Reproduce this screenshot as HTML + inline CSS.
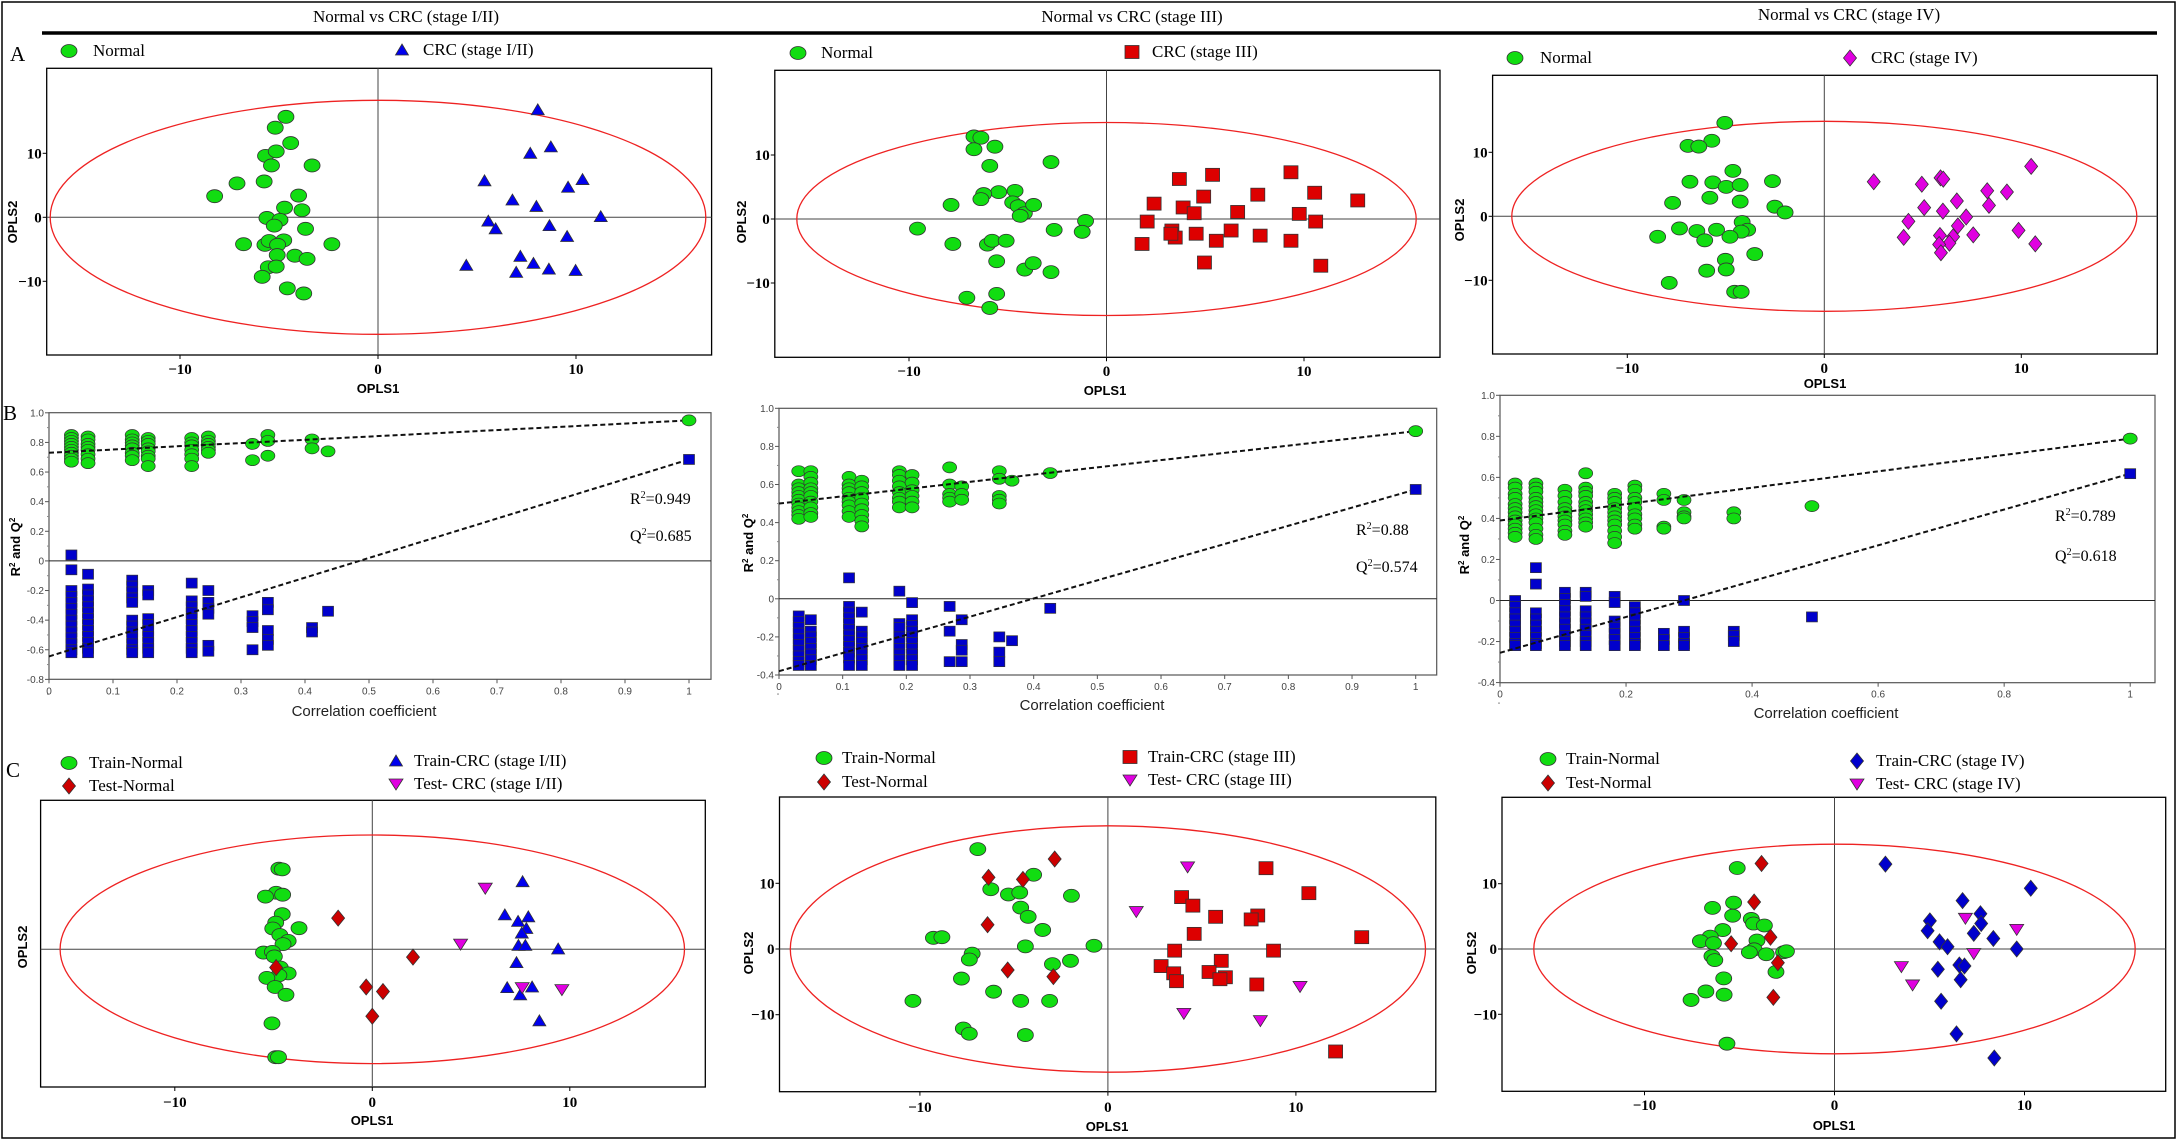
<!DOCTYPE html>
<html><head><meta charset="utf-8"><style>
html,body{margin:0;padding:0;background:#fff}
svg{display:block}
.ser{font-family:"Liberation Serif",serif}
.san{font-family:"Liberation Sans",sans-serif}
</style></head><body>
<svg id="fig" xmlns="http://www.w3.org/2000/svg" width="2182" height="1144" viewBox="0 0 2182 1144">
<rect x="2" y="2" width="2173" height="1136" fill="none" stroke="#000" stroke-width="1.5"/>
<line x1="42" y1="33" x2="2157" y2="33" stroke="#000" stroke-width="3.5"/>
<text class="ser" x="406" y="22" font-size="17" text-anchor="middle">Normal vs CRC (stage I/II)</text>
<text class="ser" x="1132" y="22" font-size="17" text-anchor="middle">Normal vs CRC (stage III)</text>
<text class="ser" x="1849" y="20" font-size="17" text-anchor="middle">Normal vs CRC (stage IV)</text>
<text class="ser" x="10" y="61" font-size="21">A</text>
<text class="ser" x="3" y="420" font-size="21">B</text>
<text class="ser" x="6" y="777" font-size="21">C</text>
<g id="root"></g>
</svg>
<script>
// ---------- data: score plots (OPLS1, OPLS2) ----------
const a1Normal=[[-4.65,15.7],[-5.19,14.0],[-4.41,11.6],[-5.68,9.6],[-5.14,10.3],[-5.38,8.1],[-3.33,8.1],[-7.12,5.3],[-5.75,5.6],[-8.25,3.3],[-4.01,3.4],[-4.72,1.5],[-3.84,1.1],[-5.61,-0.1],[-4.95,-0.4],[-5.24,-1.3],[-3.66,-1.8],[-6.79,-4.2],[-5.71,-4.3],[-5.5,-3.7],[-4.76,-3.6],[-5.07,-4.3],[-2.33,-4.2],[-5.09,-5.9],[-4.2,-6.0],[-3.58,-6.5],[-5.54,-7.8],[-5.14,-7.7],[-5.85,-9.3],[-4.58,-11.1],[-3.75,-11.9]];
const a1Crc=[[8.07,16.8],[8.73,11.0],[7.69,10.0],[5.38,5.7],[10.33,5.9],[9.6,4.7],[6.79,2.7],[8.0,1.7],[11.25,0.1],[5.57,-0.6],[5.94,-1.8],[8.66,-1.3],[9.55,-3.0],[7.19,-6.1],[7.85,-7.2],[4.46,-7.5],[6.98,-8.6],[8.63,-8.1],[9.98,-8.3]];
const a2Normal=[[-6.71,12.9],[-6.36,12.7],[-6.71,10.9],[-5.65,11.3],[-5.91,8.3],[-2.81,8.9],[-5.46,4.2],[-6.22,3.9],[-6.36,3.1],[-4.63,4.4],[-4.75,2.6],[-4.47,2.0],[-4.16,0.9],[-4.37,0.5],[-3.69,2.2],[-7.87,2.2],[-1.06,-0.3],[-9.57,-1.5],[-2.65,-1.7],[-1.23,-2.0],[-7.78,-3.9],[-6.03,-4.0],[-5.79,-3.4],[-5.08,-3.4],[-5.56,-6.6],[-4.14,-7.9],[-3.71,-6.9],[-2.81,-8.3],[-7.07,-12.3],[-5.56,-11.7],[-5.91,-13.9]];
const a2Crc=[[3.69,6.25],[5.37,6.9],[9.34,7.3],[2.41,2.4],[4.92,3.5],[7.66,3.8],[10.54,4.1],[12.72,2.9],[3.88,1.8],[4.44,0.9],[6.64,1.1],[9.76,0.8],[2.06,-0.4],[10.59,-0.4],[3.31,-1.8],[3.48,-2.9],[3.26,-2.3],[4.54,-2.3],[6.31,-1.8],[7.78,-2.6],[5.56,-3.4],[9.34,-3.4],[1.8,-3.9],[4.96,-6.8],[10.85,-7.3]];
const a3Normal=[[-5.05,14.6],[-5.71,11.8],[-6.92,11.0],[-6.37,10.9],[-4.64,7.1],[-6.82,5.4],[-5.66,5.3],[-4.98,4.6],[-4.27,4.9],[-2.63,5.5],[-5.81,2.9],[-4.27,2.3],[-7.7,2.1],[-2.51,1.5],[-1.99,0.6],[-4.17,-0.9],[-3.89,-2.1],[-4.22,-2.4],[-7.35,-1.9],[-6.47,-2.3],[-5.47,-2.1],[-6.07,-3.75],[-4.79,-3.2],[-8.46,-3.2],[-3.53,-5.9],[-5.02,-6.8],[-4.98,-8.3],[-5.97,-8.5],[-7.87,-10.4],[-4.55,-11.8],[-4.22,-11.8]];
const a3Crc=[[2.51,5.4],[4.95,5.0],[5.9,6.0],[6.04,5.8],[10.5,7.8],[8.27,4.0],[9.27,3.8],[6.73,2.4],[5.07,1.35],[8.36,1.7],[6.02,0.8],[7.2,-0.1],[4.27,-0.8],[6.78,-1.5],[9.86,-2.2],[7.56,-2.9],[4.03,-3.3],[5.87,-3.0],[6.54,-3.2],[6.35,-4.2],[5.83,-4.4],[10.71,-4.3],[5.92,-5.7]];
const c1TrainNormal=[[-4.73,12.4],[-4.56,12.3],[-4.87,8.7],[-4.54,8.4],[-5.41,8.1],[-4.56,5.4],[-4.89,4.1],[-5.04,3.2],[-4.68,2.2],[-3.71,3.25],[-4.26,1.3],[-4.52,0.8],[-5.51,-0.5],[-5.06,-0.4],[-4.96,-1.1],[-4.66,-2.8],[-4.26,-3.7],[-4.73,-4.0],[-5.34,-4.4],[-4.92,-5.8],[-4.37,-7.0],[-5.08,-11.4],[-4.89,-16.6],[-4.75,-16.6]];
const c1TestNormal=[[-1.73,4.8],[-4.87,-2.8],[2.06,-1.2],[-0.31,-5.8],[0.54,-6.5],[0.0,-10.3]];
const c1TrainCrc=[[7.61,10.4],[6.71,5.3],[7.38,4.3],[7.9,5.0],[7.8,3.2],[7.57,2.5],[7.4,0.6],[7.75,0.6],[9.41,0.05],[7.3,-2.05],[6.83,-5.9],[8.09,-5.8],[7.49,-7.0],[8.46,-11.0]];
const c1TestCrc=[[5.72,9.4],[4.47,0.8],[7.59,-5.9],[9.6,-6.2]];
const c2TrainNormal=[[-6.92,15.2],[-3.95,11.3],[-6.23,9.1],[-5.29,8.3],[-4.69,8.6],[-1.94,8.1],[-4.64,6.3],[-4.24,4.9],[-3.47,2.9],[-9.28,1.7],[-8.83,1.8],[-4.39,0.4],[-0.74,0.5],[-7.22,-0.7],[-7.37,-1.6],[-2.95,-2.3],[-1.99,-1.8],[-7.79,-4.5],[-6.08,-6.5],[-10.37,-7.9],[-4.64,-7.9],[-3.1,-7.9],[-7.69,-12.1],[-7.37,-12.9],[-4.39,-13.1]];
const c2TestNormal=[[-2.83,13.7],[-6.35,10.9],[-4.52,10.6],[-6.4,3.7],[-5.33,-3.2],[-2.9,-4.2]];
const c2TrainCrc=[[8.41,12.3],[10.69,8.5],[3.92,7.9],[4.52,6.6],[5.73,4.9],[7.97,5.1],[7.62,4.5],[4.59,2.3],[13.5,1.8],[3.55,-0.25],[8.81,-0.25],[6.03,-1.8],[2.83,-2.6],[5.38,-3.5],[3.5,-3.7],[6.25,-4.3],[5.96,-4.6],[3.65,-4.9],[7.92,-5.4],[12.11,-15.6]];
const c2TestCrc=[[4.24,12.5],[1.51,5.7],[10.22,-5.7],[4.04,-9.8],[8.11,-10.9]];
const c3TrainNormal=[[-5.12,12.4],[-5.31,7.1],[-6.42,6.3],[-5.36,5.1],[-4.38,4.6],[-4.26,3.9],[-3.69,3.6],[-5.88,2.9],[-6.54,1.9],[-7.06,1.2],[-6.37,0.9],[-4.08,1.3],[-4.23,-0.05],[-4.48,-0.5],[-3.59,-0.8],[-2.68,-0.5],[-2.53,-0.35],[-6.45,-1.1],[-6.3,-1.7],[-3.08,-3.5],[-5.83,-4.5],[-6.77,-6.5],[-5.81,-7.0],[-7.55,-7.8],[-5.66,-14.5]];
const c3TestNormal=[[-3.84,13.1],[-4.23,7.2],[-3.37,1.8],[-5.44,0.8],[-2.98,-2.1],[-3.22,-7.4]];
const c3TrainCrc=[[2.68,13.0],[10.33,9.3],[6.74,7.4],[7.68,5.4],[5.02,4.3],[7.72,3.9],[4.9,2.8],[7.33,2.4],[8.36,1.6],[5.53,1.1],[5.95,0.35],[9.59,0.0],[6.57,-2.45],[6.84,-2.6],[5.44,-3.1],[6.64,-4.7],[5.61,-8.0],[6.42,-13.0],[8.41,-16.7]];
const c3TestCrc=[[6.89,4.7],[9.59,3.0],[7.33,-0.7],[3.52,-2.7],[4.11,-5.5]];
const scoreTicks=[-10,0,10];
// ---------- data: permutation tests ----------
const b1Cols=[0.035,0.061,0.13,0.155,0.223,0.249,0.318,0.342,0.411,0.436];
const b1R2=[[0.85,0.83,0.81,0.79,0.77,0.75,0.73,0.71,0.69,0.67],[0.84,0.82,0.79,0.77,0.75,0.72,0.69,0.66],[0.85,0.82,0.8,0.78,0.76,0.73,0.71,0.68],[0.83,0.81,0.79,0.76,0.74,0.71,0.69,0.64],[0.83,0.8,0.78,0.75,0.72,0.69,0.64],[0.84,0.81,0.79,0.77,0.75,0.73],[0.79,0.68],[0.85,0.81,0.71],[0.82,0.76],[0.74]];
const b1Q2=[[0.04,-0.06,-0.2,-0.24,-0.28,-0.32,-0.36,-0.4,-0.44,-0.48,-0.52,-0.56,-0.6,-0.62],[-0.09,-0.19,-0.23,-0.27,-0.31,-0.35,-0.39,-0.43,-0.47,-0.51,-0.55,-0.59,-0.62],[-0.13,-0.17,-0.21,-0.25,-0.28,-0.4,-0.44,-0.48,-0.52,-0.56,-0.6,-0.62],[-0.2,-0.23,-0.39,-0.43,-0.47,-0.51,-0.55,-0.59,-0.62],[-0.15,-0.27,-0.31,-0.35,-0.39,-0.43,-0.47,-0.51,-0.55,-0.59,-0.62],[-0.2,-0.28,-0.32,-0.36,-0.57,-0.61],[-0.37,-0.41,-0.45,-0.6],[-0.28,-0.33,-0.47,-0.53,-0.57],[-0.45,-0.48],[-0.34]];
const b1Final=[0.949,0.685];
const b1Intercepts=[0.73,-0.645];
const b2Cols=[0.031,0.05,0.11,0.13,0.189,0.209,0.268,0.287,0.346,0.366,0.426];
const b2R2=[[0.67,0.6,0.58,0.56,0.54,0.52,0.5,0.48,0.46,0.44,0.42],[0.67,0.64,0.61,0.58,0.56,0.54,0.51,0.48,0.45,0.43],[0.64,0.6,0.58,0.56,0.53,0.51,0.49,0.46,0.43],[0.62,0.59,0.56,0.53,0.5,0.47,0.44,0.41,0.38],[0.67,0.65,0.62,0.59,0.56,0.53,0.51,0.48],[0.65,0.61,0.57,0.54,0.51,0.48],[0.69,0.6,0.55,0.53,0.51],[0.59,0.55,0.52],[0.67,0.63,0.54,0.52,0.5],[0.62],[0.66]];
const b2Q2=[[-0.09,-0.12,-0.15,-0.18,-0.21,-0.24,-0.27,-0.3,-0.33,-0.35],[-0.11,-0.17,-0.2,-0.23,-0.26,-0.29,-0.32,-0.35],[0.11,-0.04,-0.07,-0.1,-0.13,-0.16,-0.19,-0.22,-0.25,-0.28,-0.31,-0.35],[-0.07,-0.17,-0.2,-0.23,-0.26,-0.29,-0.32,-0.35],[0.04,-0.13,-0.15,-0.2,-0.23,-0.26,-0.29,-0.32,-0.35],[-0.02,-0.11,-0.14,-0.17,-0.2,-0.23,-0.26,-0.29,-0.32,-0.35],[-0.04,-0.17,-0.33],[-0.11,-0.24,-0.27,-0.33],[-0.2,-0.28,-0.33],[-0.22],[-0.05]];
const b2Final=[0.88,0.574];
const b2Intercepts=[0.5,-0.38];
const b3Cols=[0.024,0.057,0.103,0.136,0.182,0.214,0.26,0.292,0.371,0.495];
const b3R2=[[0.57,0.55,0.52,0.5,0.47,0.45,0.43,0.41,0.39,0.37,0.35,0.33,0.31],[0.57,0.55,0.53,0.5,0.48,0.46,0.44,0.42,0.4,0.38,0.35,0.32,0.3],[0.54,0.51,0.48,0.45,0.43,0.41,0.39,0.37,0.34,0.32],[0.62,0.55,0.53,0.51,0.48,0.46,0.44,0.42,0.4,0.38,0.36],[0.52,0.5,0.48,0.45,0.43,0.41,0.39,0.37,0.34,0.31,0.28],[0.56,0.54,0.5,0.48,0.45,0.42,0.4,0.37,0.35],[0.52,0.49,0.36,0.35],[0.49,0.43,0.41,0.4],[0.43,0.4],[0.46]];
const b3Q2=[[0.0,-0.03,-0.06,-0.09,-0.12,-0.15,-0.18,-0.21,-0.22],[0.16,0.08,-0.06,-0.09,-0.12,-0.15,-0.18,-0.21,-0.22],[0.04,0.01,-0.02,-0.05,-0.08,-0.11,-0.14,-0.17,-0.2,-0.22],[0.04,0.02,-0.05,-0.08,-0.11,-0.14,-0.17,-0.2,-0.22],[0.02,-0.01,-0.1,-0.13,-0.16,-0.19,-0.22],[-0.03,-0.06,-0.09,-0.12,-0.15,-0.18,-0.21,-0.22],[-0.16,-0.19,-0.22],[0.0,-0.15,-0.18,-0.21,-0.22],[-0.15,-0.17,-0.2],[-0.08]];
const b3Final=[0.789,0.618];
const b3Intercepts=[0.39,-0.255];
const b1YTicks=[1.0,0.8,0.6,0.4,0.2,0,-0.2,-0.4,-0.6,-0.8];
const b23YTicks=[1.0,0.8,0.6,0.4,0.2,0,-0.2,-0.4];
const b12XTicks=[0,0.1,0.2,0.3,0.4,0.5,0.6,0.7,0.8,0.9,1];
const b3XTicks=[0,0.2,0.4,0.6,0.8,1];

const NS="http://www.w3.org/2000/svg";
const root=document.getElementById('root');
function el(tag,attrs,parent){const e=document.createElementNS(NS,tag);for(const k in attrs)e.setAttribute(k,attrs[k]);(parent||root).appendChild(e);return e;}
function txt(s,attrs,parent){const e=el('text',attrs,parent);e.textContent=s;return e;}
const COL={green:'#11dd11',blue:'#0000ee',red:'#dd0000',mag:'#e000e0',dblue:'#0000cc',dred:'#cc0000'};
function marker(shape,cx,cy,fill,s,parent){
  s=s||1;let e;
  const st={fill:fill,stroke:'#333','stroke-width':0.8};
  if(shape==='circle'){e=el('ellipse',Object.assign({cx:cx,cy:cy,rx:8*s,ry:6.5*s},st),parent);}
  else if(shape==='square'){e=el('rect',Object.assign({x:cx-7*s,y:cy-6.5*s,width:14*s,height:13*s},st),parent);}
  else if(shape==='tri'){e=el('polygon',Object.assign({points:`${cx},${cy-6*s} ${cx+6.5*s},${cy+5*s} ${cx-6.5*s},${cy+5*s}`},st),parent);}
  else if(shape==='invtri'){e=el('polygon',Object.assign({points:`${cx-7*s},${cy-5*s} ${cx+7*s},${cy-5*s} ${cx},${cy+6*s}`},st),parent);}
  else {e=el('polygon',Object.assign({points:`${cx},${cy-8*s} ${cx+6.5*s},${cy} ${cx},${cy+8*s} ${cx-6.5*s},${cy}`},st),parent);}
  return e;
}
function scorePanel(id,cfg,series,legend,showY){
  const g=el('g',{});
  
  
  const [L,T,R,B]=cfg.box;
  const X=v=>cfg.x0+v*cfg.sx, Y=v=>cfg.y0-v*cfg.sy;
  const box=el('rect',{x:L,y:T,width:R-L,height:B-T,fill:'#fff',stroke:'#000','stroke-width':1.3},g);
  
  
  const vz=el('line',{x1:X(0),y1:T,x2:X(0),y2:B,stroke:'#444','stroke-width':1},g);
  
  
  const hz=el('line',{x1:L,y1:Y(0),x2:R,y2:Y(0),stroke:'#444','stroke-width':1},g);
  
  
  const ell=el('ellipse',{cx:X(0),cy:Y(0),rx:cfg.rx,ry:cfg.ry,fill:'none',stroke:'#ee2222','stroke-width':1.3},g);
  
  
  scoreTicks.forEach(t=>{
    el('line',{x1:X(t),y1:B,x2:X(t),y2:B+4,stroke:'#000'},g);
    const tl=txt(String(t).replace('-','\u2212'),{x:X(t),y:cfg.tickY,'text-anchor':'middle','font-size':15,'font-weight':'bold',class:'ser'},g);
    
    
    if(showY){
      el('line',{x1:L-4,y1:Y(t),x2:L,y2:Y(t),stroke:'#000'},g);
      const yl=txt(String(t).replace('-','\u2212'),{x:L-5,y:Y(t)+5,'text-anchor':'end','font-size':15,'font-weight':'bold',class:'ser'},g);
      
      
    }
  });
  const xt=txt('OPLS1',{x:cfg.xl[0],y:cfg.xl[1],'text-anchor':'middle','font-size':13,'font-weight':'bold',class:'san'},g);
  
  
  const yt=txt('OPLS2',{x:0,y:0,'text-anchor':'middle','font-size':13,'font-weight':'bold',class:'san',transform:`translate(${cfg.yl[0]},${cfg.yl[1]}) rotate(-90)`},g);
  
  
  series.forEach(sr=>{
    sr.data.forEach(p=>{
      const m=marker(sr.shape,X(p[0]),Y(p[1]),sr.fill,1,g);
      
      
    });
  });
  legend.forEach(lg=>{
    const m=marker(lg.shape,lg.mx,lg.y-5,lg.fill,1,root);
    
    
    const t=txt(lg.text,{x:lg.tx,y:lg.y,'font-size':17,class:'ser'});
    
    
  });
}
function permPanel(id,cfg,cols,r2,q2,fin,icpt,yTicks,xTicks,labels){
  const g=el('g',{});
  
  
  const [L,T,R,B]=cfg.box;
  const X=v=>cfg.x0+v*cfg.sx, Y=v=>cfg.y0-v*cfg.sy;
  const box=el('rect',{x:L,y:T,width:R-L,height:B-T,fill:'#fff',stroke:'#555','stroke-width':1.2},g);
  
  
  const hz=el('line',{x1:L,y1:Y(0),x2:R,y2:Y(0),stroke:'#222','stroke-width':1},g);
  
  
  yTicks.forEach(t=>{
    el('line',{x1:L-4,y1:Y(t),x2:L,y2:Y(t),stroke:'#555'},g);
    el('line',{x1:L-2,y1:Y(t-0.1),x2:L,y2:Y(t-0.1),stroke:'#888'},g);
    const yl=txt(t===0?'0':t.toFixed(1),{x:L-5,y:Y(t)+3.5,'text-anchor':'end','font-size':10,fill:'#444',class:'san'},g);
    
    
  });
  xTicks.forEach(t=>{
    el('line',{x1:X(t),y1:B,x2:X(t),y2:B+4,stroke:'#555'},g);
    const xl=txt(String(t),{x:X(t),y:B+15,'text-anchor':'middle','font-size':10,fill:'#444',class:'san'},g);
    
    
  });
  cols.forEach((c,i)=>{
    q2[i].forEach(v=>{
      const m=el('rect',{x:X(c)-5.5,y:Y(v)-5,width:11,height:10,fill:COL.dblue,stroke:'#333','stroke-width':0.7},g);
      
      
    });
  });
  cols.forEach((c,i)=>{
    r2[i].forEach(v=>{
      const m=el('ellipse',{cx:X(c),cy:Y(v),rx:7,ry:5.5,fill:COL.green,stroke:'#333','stroke-width':0.7},g);
      
      
    });
  });
  const lr=el('line',{x1:X(0),y1:Y(icpt[0]),x2:X(1),y2:Y(fin[0]),stroke:'#111','stroke-width':2,'stroke-dasharray':'5,3'},g);
  
  
  const lq=el('line',{x1:X(0),y1:Y(icpt[1]),x2:X(1),y2:Y(fin[1]),stroke:'#111','stroke-width':2,'stroke-dasharray':'5,3'},g);
  
  
  const fq=el('rect',{x:X(1)-5.5,y:Y(fin[1])-5,width:11,height:10,fill:COL.dblue,stroke:'#333','stroke-width':0.7},g);
  
  
  const fr=el('ellipse',{cx:X(1),cy:Y(fin[0]),rx:7,ry:5.5,fill:COL.green,stroke:'#333','stroke-width':0.7},g);
  
  
  [['R',fin[0],labels.r2y,'r2-annotation'],['Q',fin[1],labels.q2y,'q2-annotation']].forEach(a=>{
    const t=el('text',{x:labels.x,y:a[2],'font-size':16,class:'ser'},g);
    
    
    const s1=el('tspan',{},t);s1.textContent=a[0];
    const s2=el('tspan',{'font-size':10,dy:-6},t);s2.textContent='2';
    const s3=el('tspan',{dy:6},t);s3.textContent='='+a[1];
  });
  const yt=el('text',{x:0,y:0,'text-anchor':'middle','font-size':13,'font-weight':'bold',class:'san',transform:`translate(${labels.yl[0]},${labels.yl[1]}) rotate(-90)`},g);
  
  
  let p=el('tspan',{},yt);p.textContent='R';
  p=el('tspan',{'font-size':8,dy:-5},yt);p.textContent='2';
  p=el('tspan',{dy:5},yt);p.textContent=' and Q';
  p=el('tspan',{'font-size':8,dy:-5},yt);p.textContent='2';
  const xt=txt('Correlation coefficient',{x:labels.xl[0],y:labels.xl[1],'text-anchor':'middle','font-size':15,fill:'#222',class:'san'},g);
  
  
}

scorePanel('a1',{box:[46.7,68.3,711.6,355],x0:378,sx:19.8,y0:217.3,sy:6.4,rx:327.8,ry:117,tickY:374,xl:[378,393],yl:[17,222]},
 [{data:a1Normal,shape:'circle',fill:COL.green,name:'normal'},{data:a1Crc,shape:'tri',fill:COL.blue,name:'crc-stage-1-2'}],
 [{shape:'circle',fill:COL.green,mx:69,tx:93,y:56,text:'Normal'},{shape:'tri',fill:COL.blue,mx:402,tx:423,y:55,text:'CRC (stage I/II)'}],true);
scorePanel('a2',{box:[774.8,70.3,1440,357.3],x0:1106.5,sx:19.75,y0:219,sy:6.4,rx:309.7,ry:96.5,tickY:376,xl:[1105,395],yl:[746,222]},
 [{data:a2Normal,shape:'circle',fill:COL.green,name:'normal'},{data:a2Crc,shape:'square',fill:COL.red,name:'crc-stage-3'}],
 [{shape:'circle',fill:COL.green,mx:798,tx:821,y:58,text:'Normal'},{shape:'square',fill:COL.red,mx:1132,tx:1152,y:57,text:'CRC (stage III)'}],true);
scorePanel('a3',{box:[1492.6,75.3,2157.3,354],x0:1824.3,sx:19.7,y0:216.3,sy:6.4,rx:312.5,ry:95,tickY:373,xl:[1825,388],yl:[1464,220]},
 [{data:a3Normal,shape:'circle',fill:COL.green,name:'normal'},{data:a3Crc,shape:'diamond',fill:COL.mag,name:'crc-stage-4'}],
 [{shape:'circle',fill:COL.green,mx:1515,tx:1540,y:63,text:'Normal'},{shape:'diamond',fill:COL.mag,mx:1850,tx:1871,y:63,text:'CRC (stage IV)'}],true);

permPanel('b1',{box:[49,412.7,711,679.3],x0:49,sx:640,y0:560.9,sy:148.1},b1Cols,b1R2,b1Q2,b1Final,b1Intercepts,b1YTicks,b12XTicks,{x:630,r2y:504,q2y:541,yl:[20,547],xl:[364,716]});
permPanel('b2',{box:[779,408.3,1436.7,675],x0:779,sx:636.7,y0:598.8,sy:190.5},b2Cols,b2R2,b2Q2,b2Final,b2Intercepts,b23YTicks,b12XTicks,{x:1356,r2y:535,q2y:572,yl:[753,543],xl:[1092,710]});
permPanel('b3',{box:[1500,395.3,2155,682.7],x0:1500,sx:630.2,y0:600.5,sy:205.2},b3Cols,b3R2,b3Q2,b3Final,b3Intercepts,b23YTicks,b3XTicks,{x:2055,r2y:521,q2y:561,yl:[1469,545],xl:[1826,718]});

scorePanel('c1',{box:[40.6,800.3,705.3,1087],x0:372.3,sx:19.75,y0:949.3,sy:6.5,rx:312.2,ry:114.3,tickY:1107,xl:[372,1125],yl:[27,947]},
 [{data:c1TrainNormal,shape:'circle',fill:COL.green,name:'train-normal'},{data:c1TestNormal,shape:'diamond',fill:COL.dred,name:'test-normal'},{data:c1TrainCrc,shape:'tri',fill:COL.blue,name:'train-crc'},{data:c1TestCrc,shape:'invtri',fill:COL.mag,name:'test-crc'}],
 [{shape:'circle',fill:COL.green,mx:69,tx:89,y:768,text:'Train-Normal'},{shape:'diamond',fill:COL.dred,mx:69,tx:89,y:791,text:'Test-Normal'},{shape:'tri',fill:COL.blue,mx:396,tx:414,y:766,text:'Train-CRC (stage I/II)'},{shape:'invtri',fill:COL.mag,mx:396,tx:414,y:789,text:'Test- CRC (stage I/II)'}],false);
scorePanel('c2',{box:[779.5,797,1435.8,1091.7],x0:1107.9,sx:18.8,y0:949,sy:6.57,rx:317.6,ry:123.2,tickY:1112,xl:[1107,1131],yl:[753,953]},
 [{data:c2TrainNormal,shape:'circle',fill:COL.green,name:'train-normal'},{data:c2TestNormal,shape:'diamond',fill:COL.dred,name:'test-normal'},{data:c2TrainCrc,shape:'square',fill:COL.red,name:'train-crc'},{data:c2TestCrc,shape:'invtri',fill:COL.mag,name:'test-crc'}],
 [{shape:'circle',fill:COL.green,mx:824,tx:842,y:763,text:'Train-Normal'},{shape:'diamond',fill:COL.dred,mx:824,tx:842,y:787,text:'Test-Normal'},{shape:'square',fill:COL.red,mx:1130,tx:1148,y:762,text:'Train-CRC (stage III)'},{shape:'invtri',fill:COL.mag,mx:1130,tx:1148,y:785,text:'Test- CRC (stage III)'}],true);
scorePanel('c3',{box:[1502,797.3,2165.7,1091.3],x0:1834.5,sx:19.0,y0:949,sy:6.53,rx:300.7,ry:104.8,tickY:1110,xl:[1834,1130],yl:[1476,953]},
 [{data:c3TrainNormal,shape:'circle',fill:COL.green,name:'train-normal'},{data:c3TestNormal,shape:'diamond',fill:COL.dred,name:'test-normal'},{data:c3TrainCrc,shape:'diamond',fill:COL.dblue,name:'train-crc'},{data:c3TestCrc,shape:'invtri',fill:COL.mag,name:'test-crc'}],
 [{shape:'circle',fill:COL.green,mx:1548,tx:1566,y:764,text:'Train-Normal'},{shape:'diamond',fill:COL.dred,mx:1548,tx:1566,y:788,text:'Test-Normal'},{shape:'diamond',fill:COL.dblue,mx:1857,tx:1876,y:766,text:'Train-CRC (stage IV)'},{shape:'invtri',fill:COL.mag,mx:1857,tx:1876,y:789,text:'Test- CRC (stage IV)'}],true);
</script>
</body></html>
